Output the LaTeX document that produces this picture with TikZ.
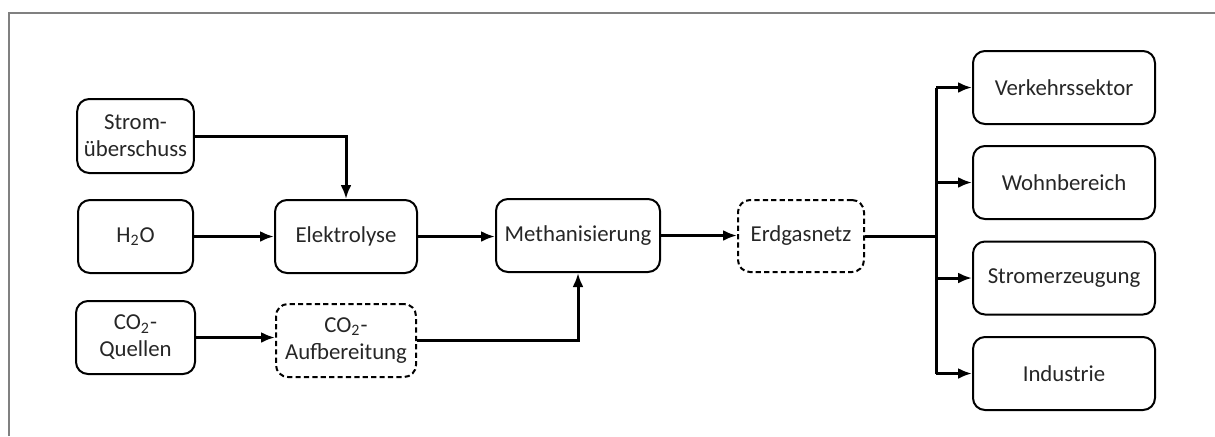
\documentclass[tikz,border=0pt]{standalone}
\usepackage{fontspec}
\setmainfont{Carlito}
\usepackage{tikz}
\usetikzlibrary{arrows.meta}

\tikzset{
  box/.style={draw, line width=1pt, rounded corners=6pt, align=center, font=\fontsize{11.4}{13.5}\selectfont, text=black!85},
  dashbox/.style={box, dash pattern=on 2.6pt off 1.6pt},
  flow/.style={line width=1.5pt, -{Latex[length=7pt,width=5.5pt]}},
  line/.style={line width=1.5pt}
}

\begin{document}
\begin{tikzpicture}[x=0.5pt,y=-0.5pt]
\useasboundingbox (0,0) rectangle (1215,436);
% frame
\draw[gray, line width=0.8pt] (9,436) -- (9,13) -- (1215,13);

% inputs
\node[box, minimum width=57.5pt, minimum height=37pt] (strom) at (135.5,136) {Strom-\\überschuss};
\node[box, minimum width=57.5pt, minimum height=36.5pt] (wasser) at (135.5,236.5) {H\textsubscript{2}O};
\node[box, minimum width=59.5pt, minimum height=36.5pt] (co2q) at (135.5,337.5) {CO\textsubscript{2}-\\Quellen};

% processes
\node[box, minimum width=71pt, minimum height=36.5pt] (elektro) at (346,236.5) {Elektrolyse};
\node[dashbox, minimum width=70pt, minimum height=36.5pt] (aufb) at (346,340.5) {CO\textsubscript{2}-\\Aufbereitung};
\node[box, minimum width=82pt, minimum height=36.5pt] (meth) at (578,235.5) {Methanisierung};
\node[dashbox, minimum width=63pt, minimum height=36pt] (erdgas) at (801,236) {Erdgasnetz};

% consumers
\node[box, minimum width=91pt, minimum height=36.5pt] (verkehr) at (1064,87.5) {Verkehrssektor};
\node[box, minimum width=91pt, minimum height=36.5pt] (wohn) at (1064,182.5) {Wohnbereich};
\node[box, minimum width=91pt, minimum height=36.5pt] (stromerz) at (1064,278) {Stromerzeugung};
\node[box, minimum width=91pt, minimum height=36.5pt] (ind) at (1064,373.5) {Industrie};

% connectors
\draw[flow] (strom.east) -| (elektro.north);
\draw[flow] (wasser) -- (elektro);
\draw[flow] (co2q) -- (co2q -| aufb.west);
\draw[flow] (elektro) -- (elektro -| meth.west);
\draw[flow] (aufb.east) -| (meth.south);
\draw[flow] (meth) -- (meth -| erdgas.west);

\coordinate (bus) at (936,236);
\draw[line] (erdgas.east) -- (bus);
\draw[line] (936,87.5) -- (936,373.5);
\foreach \n in {verkehr,wohn,stromerz,ind}
  \draw[flow] (\n.west -| bus) -- (\n.west);
\end{tikzpicture}
\end{document}
